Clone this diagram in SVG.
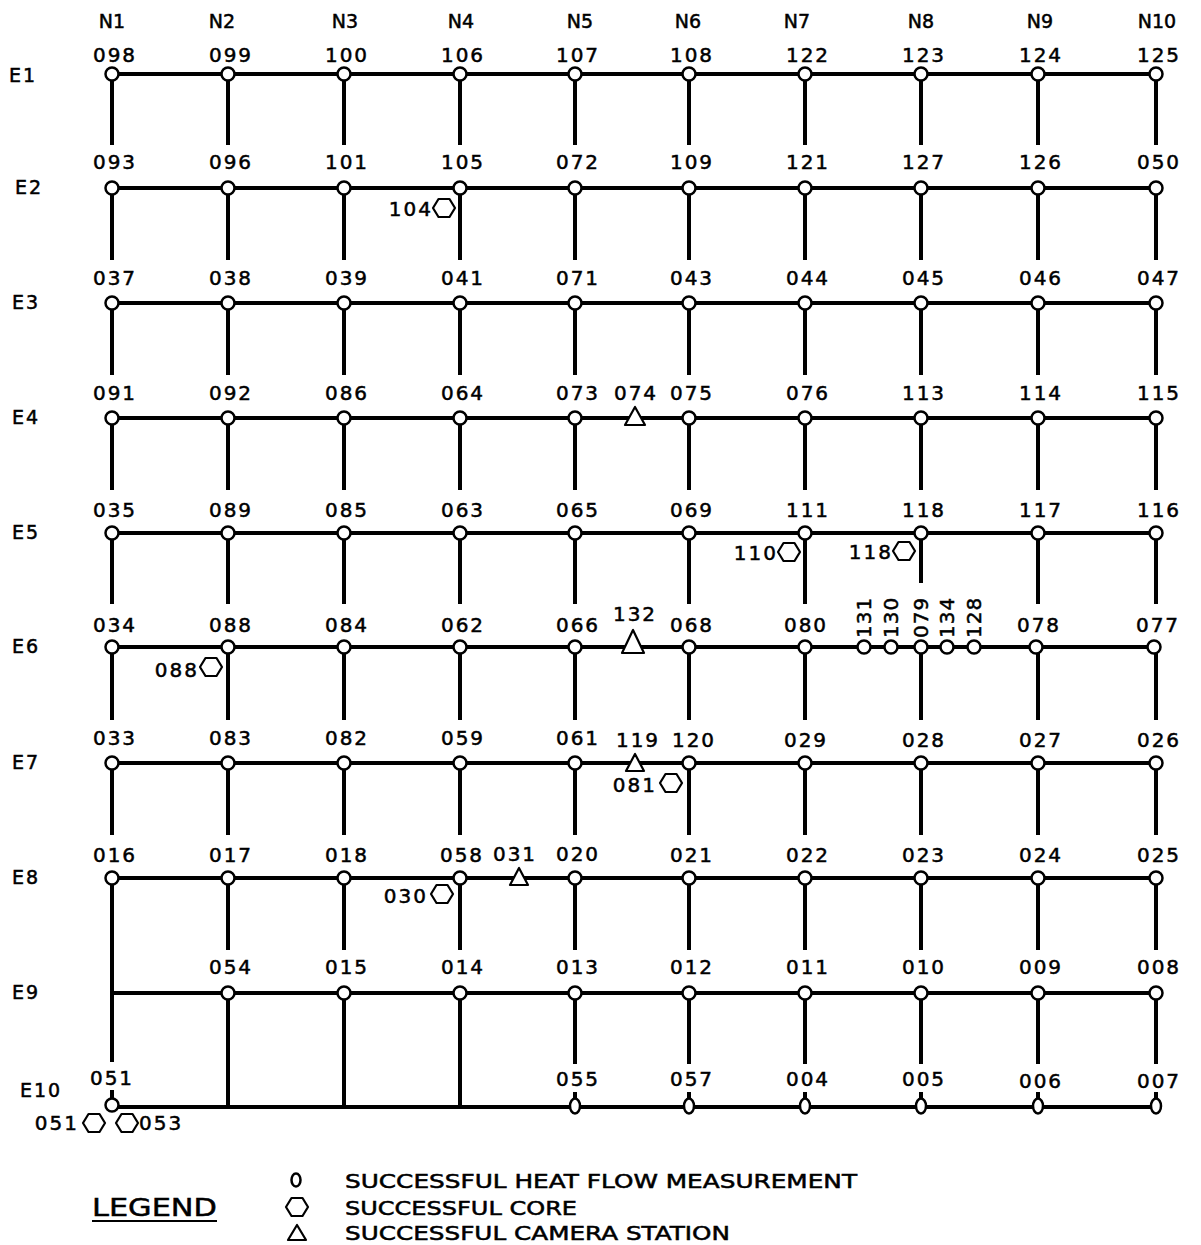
<svg xmlns="http://www.w3.org/2000/svg" width="1201" height="1245" viewBox="0 0 1201 1245">
<style>
text{font-family:"DejaVu Sans","Liberation Sans",sans-serif;fill:#000;stroke:#000;stroke-width:0.5}
.lbl{font-size:20px;letter-spacing:2px;text-anchor:middle}
.rot{font-size:20px;letter-spacing:1px}
.hl{font-size:20px;letter-spacing:2px;text-anchor:end}
.hr{font-size:20px;letter-spacing:2px}
.row{font-size:19px;letter-spacing:2px}
.col{font-size:19px;text-anchor:middle}
.leg{font-size:19px}
.ln{fill:none;stroke:#000;stroke-width:4}
.nd{fill:#fff;stroke:#000;stroke-width:2.5}
.sym{fill:#fff;stroke:#000;stroke-width:2.2;stroke-linejoin:round}
</style>
<defs>
<circle id="c" r="6.5" class="nd"/>
<ellipse id="s" rx="5" ry="7.5" class="nd"/>
<polygon id="hex" points="-11,0 -5.5,-9 5.5,-9 11,0 5.5,9 -5.5,9" class="sym"/>
</defs>
<rect width="1201" height="1245" fill="#fff"/>

<g id="axis-labels">
<text class="col" x="112" y="28">N1</text>
<text class="col" x="222" y="28">N2</text>
<text class="col" x="345" y="28">N3</text>
<text class="col" x="461" y="28">N4</text>
<text class="col" x="580" y="28">N5</text>
<text class="col" x="688" y="28">N6</text>
<text class="col" x="797" y="28">N7</text>
<text class="col" x="921" y="28">N8</text>
<text class="col" x="1040" y="28">N9</text>
<text class="col" x="1157" y="28">N10</text>
<text class="row" x="9" y="82">E1</text>
<text class="row" x="15" y="194">E2</text>
<text class="row" x="12" y="309">E3</text>
<text class="row" x="12" y="424">E4</text>
<text class="row" x="12" y="539">E5</text>
<text class="row" x="12" y="653">E6</text>
<text class="row" x="12" y="769">E7</text>
<text class="row" x="12" y="884">E8</text>
<text class="row" x="12" y="999">E9</text>
<text class="row" x="20" y="1097">E10</text>
</g>

<g id="connectors">
<path class="ln" d="M112 74H1156M112 188H1156M112 303H1156M112 418H1156M112 533H1156M112 647H1156M112 763H1156M112 878H1156M112 993H1156M112 1107H1156"/>
<path class="ln" d="M112 74V145M228 74V145M344 74V145M460 74V145M575 74V145M689 74V145M805 74V145M921 74V145M1038 74V145M1156 74V145
M112 188V260M228 188V260M344 188V260M460 188V260M575 188V260M689 188V260M805 188V260M921 188V260M1038 188V260M1156 188V260
M112 303V375M228 303V375M344 303V375M460 303V375M575 303V375M689 303V375M805 303V375M921 303V375M1038 303V375M1156 303V375
M112 418V490M228 418V490M344 418V490M460 418V490M575 418V490M689 418V490M805 418V490M921 418V490M1038 418V490M1156 418V490
M112 533V604M228 533V604M344 533V604M460 533V604M575 533V604M689 533V604M805 533V604M921 533V583M1038 533V604M1156 533V604
M112 647V720M228 647V720M344 647V720M460 647V720M575 647V720M689 647V720M805 647V720M921 647V720M1038 647V720M1156 647V720
M112 763V835M228 763V835M344 763V835M460 763V835M575 763V835M689 763V835M805 763V835M921 763V835M1038 763V835M1156 763V835
M112 878V1062M228 878V950M344 878V950M460 878V950M575 878V950M689 878V950M805 878V950M921 878V950M1038 878V950M1156 878V950
M228 993V1107M344 993V1107M460 993V1107M575 993V1064M689 993V1064M805 993V1064M921 993V1064M1038 993V1064M1156 993V1064"/>
<path class="ln" stroke-width="3" d="M112 1090V1100M575 1092V1100M689 1092V1100M805 1092V1100M921 1092V1100M1038 1092V1100M1156 1092V1100"/>
</g>

<g id="row-E1">
<g id="n098"><use href="#c" x="112" y="74"/><text class="lbl" x="115" y="62">098</text></g>
<g id="n099"><use href="#c" x="228" y="74"/><text class="lbl" x="231" y="62">099</text></g>
<g id="n100"><use href="#c" x="344" y="74"/><text class="lbl" x="347" y="62">100</text></g>
<g id="n106"><use href="#c" x="460" y="74"/><text class="lbl" x="463" y="62">106</text></g>
<g id="n107"><use href="#c" x="575" y="74"/><text class="lbl" x="578" y="62">107</text></g>
<g id="n108"><use href="#c" x="689" y="74"/><text class="lbl" x="692" y="62">108</text></g>
<g id="n122"><use href="#c" x="805" y="74"/><text class="lbl" x="808" y="62">122</text></g>
<g id="n123"><use href="#c" x="921" y="74"/><text class="lbl" x="924" y="62">123</text></g>
<g id="n124"><use href="#c" x="1038" y="74"/><text class="lbl" x="1041" y="62">124</text></g>
<g id="n125"><use href="#c" x="1156" y="74"/><text class="lbl" x="1159" y="62">125</text></g>
</g>

<g id="row-E2">
<g id="n093"><use href="#c" x="112" y="188"/><text class="lbl" x="115" y="169">093</text></g>
<g id="n096"><use href="#c" x="228" y="188"/><text class="lbl" x="231" y="169">096</text></g>
<g id="n101"><use href="#c" x="344" y="188"/><text class="lbl" x="347" y="169">101</text></g>
<g id="n105"><use href="#c" x="460" y="188"/><text class="lbl" x="463" y="169">105</text></g>
<g id="n072"><use href="#c" x="575" y="188"/><text class="lbl" x="578" y="169">072</text></g>
<g id="n109"><use href="#c" x="689" y="188"/><text class="lbl" x="692" y="169">109</text></g>
<g id="n121"><use href="#c" x="805" y="188"/><text class="lbl" x="808" y="169">121</text></g>
<g id="n127"><use href="#c" x="921" y="188"/><text class="lbl" x="924" y="169">127</text></g>
<g id="n126"><use href="#c" x="1038" y="188"/><text class="lbl" x="1041" y="169">126</text></g>
<g id="n050"><use href="#c" x="1156" y="188"/><text class="lbl" x="1159" y="169">050</text></g>
<g id="core104"><use href="#hex" x="444" y="208"/><text class="hl" x="433" y="216">104</text></g>
</g>

<g id="row-E3">
<g id="n037"><use href="#c" x="112" y="303"/><text class="lbl" x="115" y="285">037</text></g>
<g id="n038"><use href="#c" x="228" y="303"/><text class="lbl" x="231" y="285">038</text></g>
<g id="n039"><use href="#c" x="344" y="303"/><text class="lbl" x="347" y="285">039</text></g>
<g id="n041"><use href="#c" x="460" y="303"/><text class="lbl" x="463" y="285">041</text></g>
<g id="n071"><use href="#c" x="575" y="303"/><text class="lbl" x="578" y="285">071</text></g>
<g id="n043"><use href="#c" x="689" y="303"/><text class="lbl" x="692" y="285">043</text></g>
<g id="n044"><use href="#c" x="805" y="303"/><text class="lbl" x="808" y="285">044</text></g>
<g id="n045"><use href="#c" x="921" y="303"/><text class="lbl" x="924" y="285">045</text></g>
<g id="n046"><use href="#c" x="1038" y="303"/><text class="lbl" x="1041" y="285">046</text></g>
<g id="n047"><use href="#c" x="1156" y="303"/><text class="lbl" x="1159" y="285">047</text></g>
</g>

<g id="row-E4">
<g id="n091"><use href="#c" x="112" y="418"/><text class="lbl" x="115" y="400">091</text></g>
<g id="n092"><use href="#c" x="228" y="418"/><text class="lbl" x="231" y="400">092</text></g>
<g id="n086"><use href="#c" x="344" y="418"/><text class="lbl" x="347" y="400">086</text></g>
<g id="n064"><use href="#c" x="460" y="418"/><text class="lbl" x="463" y="400">064</text></g>
<g id="n073"><use href="#c" x="575" y="418"/><text class="lbl" x="578" y="400">073</text></g>
<g id="cam074"><polygon class="sym" points="635,407 625,425 645,425"/><text class="lbl" x="636" y="400">074</text></g>
<g id="n075"><use href="#c" x="689" y="418"/><text class="lbl" x="692" y="400">075</text></g>
<g id="n076"><use href="#c" x="805" y="418"/><text class="lbl" x="808" y="400">076</text></g>
<g id="n113"><use href="#c" x="921" y="418"/><text class="lbl" x="924" y="400">113</text></g>
<g id="n114"><use href="#c" x="1038" y="418"/><text class="lbl" x="1041" y="400">114</text></g>
<g id="n115"><use href="#c" x="1156" y="418"/><text class="lbl" x="1159" y="400">115</text></g>
</g>

<g id="row-E5">
<g id="n035"><use href="#c" x="112" y="533"/><text class="lbl" x="115" y="517">035</text></g>
<g id="n089"><use href="#c" x="228" y="533"/><text class="lbl" x="231" y="517">089</text></g>
<g id="n085"><use href="#c" x="344" y="533"/><text class="lbl" x="347" y="517">085</text></g>
<g id="n063"><use href="#c" x="460" y="533"/><text class="lbl" x="463" y="517">063</text></g>
<g id="n065"><use href="#c" x="575" y="533"/><text class="lbl" x="578" y="517">065</text></g>
<g id="n069"><use href="#c" x="689" y="533"/><text class="lbl" x="692" y="517">069</text></g>
<g id="n111"><use href="#c" x="805" y="533"/><text class="lbl" x="808" y="517">111</text></g>
<g id="n118"><use href="#c" x="921" y="533"/><text class="lbl" x="924" y="517">118</text></g>
<g id="n117"><use href="#c" x="1038" y="533"/><text class="lbl" x="1041" y="517">117</text></g>
<g id="n116"><use href="#c" x="1156" y="533"/><text class="lbl" x="1159" y="517">116</text></g>
<g id="core110"><use href="#hex" x="789" y="552"/><text class="hl" x="778" y="560">110</text></g>
<g id="core118"><use href="#hex" x="904" y="551"/><text class="hl" x="893" y="559">118</text></g>
</g>

<g id="row-E6">
<g id="n034"><use href="#c" x="112" y="647"/><text class="lbl" x="115" y="632">034</text></g>
<g id="n088"><use href="#c" x="228" y="647"/><text class="lbl" x="231" y="632">088</text></g>
<g id="n084"><use href="#c" x="344" y="647"/><text class="lbl" x="347" y="632">084</text></g>
<g id="n062"><use href="#c" x="460" y="647"/><text class="lbl" x="463" y="632">062</text></g>
<g id="n066"><use href="#c" x="575" y="647"/><text class="lbl" x="578" y="632">066</text></g>
<g id="cam132"><polygon class="sym" points="633,630 622,653 644,653"/><text class="lbl" x="635" y="621">132</text></g>
<g id="n068"><use href="#c" x="689" y="647"/><text class="lbl" x="692" y="632">068</text></g>
<g id="n080"><use href="#c" x="805" y="647"/><text class="lbl" x="806" y="632">080</text></g>
<g id="n131"><use href="#c" x="864" y="647"/><text class="rot" transform="translate(871 638) rotate(-90)">131</text></g>
<g id="n130"><use href="#c" x="891" y="647"/><text class="rot" transform="translate(898 638) rotate(-90)">130</text></g>
<g id="n079"><use href="#c" x="921" y="647"/><text class="rot" transform="translate(928 638) rotate(-90)">079</text></g>
<g id="n134"><use href="#c" x="947" y="647"/><text class="rot" transform="translate(954 638) rotate(-90)">134</text></g>
<g id="n128"><use href="#c" x="974" y="647"/><text class="rot" transform="translate(981 638) rotate(-90)">128</text></g>
<g id="n078"><use href="#c" x="1036" y="647"/><text class="lbl" x="1039" y="632">078</text></g>
<g id="n077"><use href="#c" x="1154" y="647"/><text class="lbl" x="1158" y="632">077</text></g>
<g id="core088"><use href="#hex" x="211" y="667"/><text class="hl" x="199" y="677">088</text></g>
</g>

<g id="row-E7">
<g id="n033"><use href="#c" x="112" y="763"/><text class="lbl" x="115" y="745">033</text></g>
<g id="n083"><use href="#c" x="228" y="763"/><text class="lbl" x="231" y="745">083</text></g>
<g id="n082"><use href="#c" x="344" y="763"/><text class="lbl" x="347" y="745">082</text></g>
<g id="n059"><use href="#c" x="460" y="763"/><text class="lbl" x="463" y="745">059</text></g>
<g id="n061"><use href="#c" x="575" y="763"/><text class="lbl" x="578" y="745">061</text></g>
<g id="cam119"><polygon class="sym" points="635,754 626,771 644,771"/><text class="lbl" x="638" y="747">119</text></g>
<g id="n120"><use href="#c" x="689" y="763"/><text class="lbl" x="694" y="747">120</text></g>
<g id="n029"><use href="#c" x="805" y="763"/><text class="lbl" x="806" y="747">029</text></g>
<g id="n028"><use href="#c" x="921" y="763"/><text class="lbl" x="924" y="747">028</text></g>
<g id="n027"><use href="#c" x="1038" y="763"/><text class="lbl" x="1041" y="747">027</text></g>
<g id="n026"><use href="#c" x="1156" y="763"/><text class="lbl" x="1159" y="747">026</text></g>
<g id="core081"><use href="#hex" x="671" y="783"/><text class="hl" x="657" y="792">081</text></g>
</g>

<g id="row-E8">
<g id="n016"><use href="#c" x="112" y="878"/><text class="lbl" x="115" y="862">016</text></g>
<g id="n017"><use href="#c" x="228" y="878"/><text class="lbl" x="231" y="862">017</text></g>
<g id="n018"><use href="#c" x="344" y="878"/><text class="lbl" x="347" y="862">018</text></g>
<g id="n058"><use href="#c" x="460" y="878"/><text class="lbl" x="462" y="862">058</text></g>
<g id="cam031"><polygon class="sym" points="519,868 510,885 528,885"/><text class="lbl" x="515" y="861">031</text></g>
<g id="n020"><use href="#c" x="575" y="878"/><text class="lbl" x="578" y="861">020</text></g>
<g id="n021"><use href="#c" x="689" y="878"/><text class="lbl" x="692" y="862">021</text></g>
<g id="n022"><use href="#c" x="805" y="878"/><text class="lbl" x="808" y="862">022</text></g>
<g id="n023"><use href="#c" x="921" y="878"/><text class="lbl" x="924" y="862">023</text></g>
<g id="n024"><use href="#c" x="1038" y="878"/><text class="lbl" x="1041" y="862">024</text></g>
<g id="n025"><use href="#c" x="1156" y="878"/><text class="lbl" x="1159" y="862">025</text></g>
<g id="core030"><use href="#hex" x="442" y="894"/><text class="hl" x="428" y="903">030</text></g>
</g>

<g id="row-E9">
<g id="n054"><use href="#c" x="228" y="993"/><text class="lbl" x="231" y="974">054</text></g>
<g id="n015"><use href="#c" x="344" y="993"/><text class="lbl" x="347" y="974">015</text></g>
<g id="n014"><use href="#c" x="460" y="993"/><text class="lbl" x="463" y="974">014</text></g>
<g id="n013"><use href="#c" x="575" y="993"/><text class="lbl" x="578" y="974">013</text></g>
<g id="n012"><use href="#c" x="689" y="993"/><text class="lbl" x="692" y="974">012</text></g>
<g id="n011"><use href="#c" x="805" y="993"/><text class="lbl" x="808" y="974">011</text></g>
<g id="n010"><use href="#c" x="921" y="993"/><text class="lbl" x="924" y="974">010</text></g>
<g id="n009"><use href="#c" x="1038" y="993"/><text class="lbl" x="1041" y="974">009</text></g>
<g id="n008"><use href="#c" x="1156" y="993"/><text class="lbl" x="1159" y="974">008</text></g>
</g>

<g id="row-E10">
<g id="n051"><use href="#c" x="112" y="1105"/><text class="lbl" x="112" y="1085">051</text></g>
<g id="n055"><use href="#s" x="575" y="1106"/><text class="lbl" x="578" y="1086">055</text></g>
<g id="n057"><use href="#s" x="689" y="1106"/><text class="lbl" x="692" y="1086">057</text></g>
<g id="n004"><use href="#s" x="805" y="1106"/><text class="lbl" x="808" y="1086">004</text></g>
<g id="n005"><use href="#s" x="921" y="1106"/><text class="lbl" x="924" y="1086">005</text></g>
<g id="n006"><use href="#s" x="1038" y="1106"/><text class="lbl" x="1041" y="1088">006</text></g>
<g id="n007"><use href="#s" x="1156" y="1106"/><text class="lbl" x="1159" y="1088">007</text></g>
<g id="core051"><use href="#hex" x="94" y="1123"/><text class="hl" x="79" y="1130">051</text></g>
<g id="core053"><use href="#hex" x="127" y="1123"/><text class="hr" x="139" y="1130">053</text></g>
</g>

<g id="legend">
<text x="92" y="1216" font-size="25" textLength="125" lengthAdjust="spacingAndGlyphs">LEGEND</text>
<line x1="92" y1="1221" x2="217" y2="1221" stroke="#000" stroke-width="2"/>
<ellipse cx="296" cy="1180" rx="4.5" ry="6.5" fill="none" stroke="#000" stroke-width="2.5"/>
<use href="#hex" x="297" y="1207"/>
<polygon class="sym" points="297,1225 288,1240 306,1240"/>
<text class="leg" x="345" y="1188" textLength="512" lengthAdjust="spacingAndGlyphs">SUCCESSFUL HEAT FLOW MEASUREMENT</text>
<text class="leg" x="345" y="1215" textLength="232" lengthAdjust="spacingAndGlyphs">SUCCESSFUL CORE</text>
<text class="leg" x="345" y="1240" textLength="385" lengthAdjust="spacingAndGlyphs">SUCCESSFUL CAMERA STATION</text>
</g>
</svg>
